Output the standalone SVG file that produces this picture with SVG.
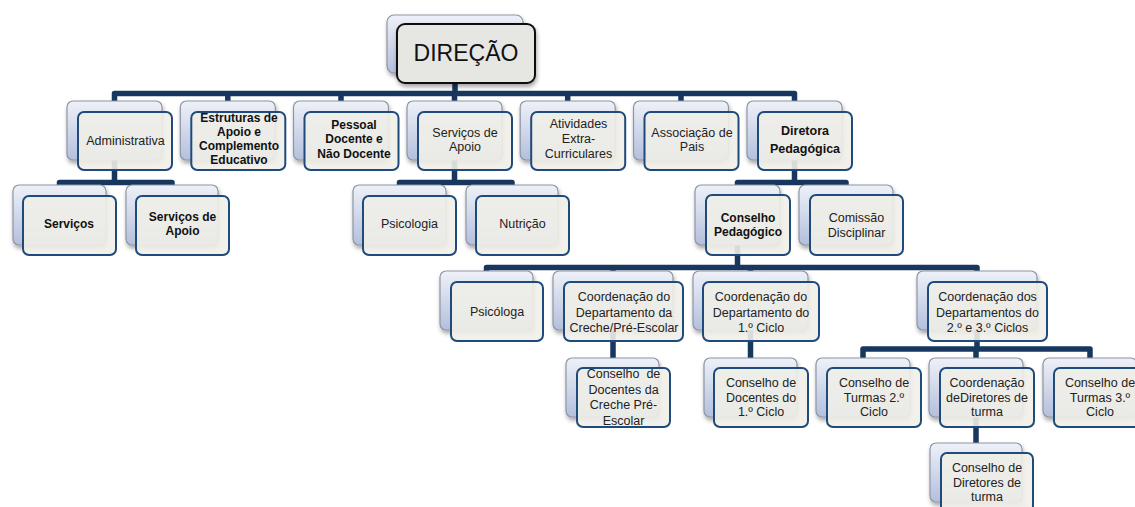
<svg xmlns="http://www.w3.org/2000/svg" width="1135" height="507" viewBox="0 0 1135 507">
<defs>
<linearGradient id="gb" x1="0" y1="0" x2="0" y2="1">
<stop offset="0" stop-color="#eef1f8"/>
<stop offset="1" stop-color="#b3bfdc"/>
</linearGradient>
<filter id="sh" x="-20%" y="-20%" width="140%" height="150%">
<feDropShadow dx="1" dy="3" stdDeviation="2" flood-color="#000" flood-opacity="0.35"/>
</filter>
<style>
.bk{fill:url(#gb);stroke:#8e95a3;stroke-width:1.2;filter:url(#sh)}
.fr{fill:#efeee8;fill-opacity:0.9;stroke:#1f4a7c;stroke-width:2}
.fd{fill:#e6e6e3;stroke:#111;stroke-width:2;filter:url(#sh)}
.t{font-family:"Liberation Sans",Arial,sans-serif;font-size:12.5px;fill:#222;text-anchor:middle}
.b{font-weight:bold;font-size:12px;fill:#111}
.c{fill:none;stroke:#17375e;stroke-width:5.5;stroke-linejoin:round}
</style>
</defs>
<rect width="1135" height="507" fill="#fff"/>
<g id="connectors">
<path class="c" d="M455 80V93.5M114.5 101V93.5H794.5V101M227.8 93.5V101M341 93.5V101M454.5 93.5V101M567.7 93.5V101M681 93.5V101"/>
<path class="c" d="M114.5 160V182.5M59.5 186V182.5H172V186"/>
<path class="c" d="M454.5 160V182.5M399.5 186V182.5H512V186"/>
<path class="c" d="M794.5 160V182.5M737.5 186V182.5H846V186"/>
<path class="c" d="M737.5 245V267.5M486.5 272V267.5H977V272M613 267.5V272M750.5 267.5V272"/>
<path class="c" d="M613 330V359M750.5 330V359"/>
<path class="c" d="M977 330V349M863 359V349H1090V359M976 349V359"/>
<path class="c" d="M976 417V444"/>
</g>
<g id="direcao">
<rect class="bk" x="387" y="15" width="136" height="58" rx="7"/>
<rect class="fd" x="397" y="24" width="138" height="59" rx="8"/>
<text class="t" x="466" y="61" style="font-size:23px;fill:#111">DIREÇÃO</text>
</g>
<g id="administrativa">
<rect class="bk" x="67" y="101" width="95" height="59" rx="6"/>
<rect class="fr" x="78" y="112" width="94" height="58" rx="6"/>
<text class="t" x="125.5" y="145">Administrativa</text>
</g>
<g id="estruturas">
<rect class="bk" x="180.3" y="101" width="95" height="59" rx="6"/>
<rect class="fr" x="191.3" y="112" width="94" height="58" rx="6"/>
<text class="t b" x="239" y="122">Estruturas de</text>
<text class="t b" x="239" y="136">Apoio e</text>
<text class="t b" x="239" y="150">Complemento</text>
<text class="t b" x="239" y="164">Educativo</text>
</g>
<g id="pessoal">
<rect class="bk" x="293.5" y="101" width="95" height="59" rx="6"/>
<rect class="fr" x="304.5" y="112" width="94" height="58" rx="6"/>
<text class="t b" x="354" y="129">Pessoal</text>
<text class="t b" x="354" y="143">Docente e</text>
<text class="t b" x="354" y="158">Não Docente</text>
</g>
<g id="servicos-apoio">
<rect class="bk" x="407" y="101" width="95" height="59" rx="6"/>
<rect class="fr" x="418" y="112" width="94" height="58" rx="6"/>
<text class="t" x="465" y="137">Serviços de</text>
<text class="t" x="465" y="151">Apoio</text>
</g>
<g id="atividades">
<rect class="bk" x="520.2" y="101" width="95" height="59" rx="6"/>
<rect class="fr" x="531.2" y="112" width="94" height="58" rx="6"/>
<text class="t" x="578.5" y="128">Atividades</text>
<text class="t" x="578.5" y="143">Extra-</text>
<text class="t" x="578.5" y="158">Curriculares</text>
</g>
<g id="associacao">
<rect class="bk" x="633.5" y="101" width="95" height="59" rx="6"/>
<rect class="fr" x="644.5" y="112" width="94" height="58" rx="6"/>
<text class="t" x="692" y="137">Associação de</text>
<text class="t" x="692" y="151">Pais</text>
</g>
<g id="diretora">
<rect class="bk" x="747" y="101" width="95" height="59" rx="6"/>
<rect class="fr" x="758" y="112" width="94" height="58" rx="6"/>
<text class="t b" x="805" y="135" style="font-size:12.5px">Diretora</text>
<text class="t b" x="805" y="153" style="font-size:12.5px">Pedagógica</text>
</g>
<g id="servicos">
<rect class="bk" x="13" y="185" width="93" height="60" rx="6"/>
<rect class="fr" x="23" y="196" width="93" height="59" rx="6"/>
<text class="t b" x="69" y="228">Serviços</text>
</g>
<g id="servicos-apoio-2">
<rect class="bk" x="126" y="185" width="92" height="60" rx="6"/>
<rect class="fr" x="136" y="196" width="93" height="59" rx="6"/>
<text class="t b" x="182.5" y="221">Serviços de</text>
<text class="t b" x="182.5" y="235">Apoio</text>
</g>
<g id="psicologia">
<rect class="bk" x="353" y="185" width="93" height="60" rx="6"/>
<rect class="fr" x="363" y="196" width="93" height="59" rx="6"/>
<text class="t" x="409.5" y="228">Psicologia</text>
</g>
<g id="nutricao">
<rect class="bk" x="466" y="185" width="92" height="60" rx="6"/>
<rect class="fr" x="476" y="196" width="93" height="59" rx="6"/>
<text class="t" x="522.5" y="228">Nutrição</text>
</g>
<g id="conselho-pedagogico">
<rect class="bk" x="695" y="185" width="85" height="60" rx="6"/>
<rect class="fr" x="706" y="195" width="84" height="60" rx="6"/>
<text class="t b" x="748" y="222">Conselho</text>
<text class="t b" x="748" y="236">Pedagógico</text>
</g>
<g id="comissao">
<rect class="bk" x="799" y="185" width="94" height="60" rx="6"/>
<rect class="fr" x="810" y="195" width="93" height="60" rx="6"/>
<text class="t" x="856.5" y="222">Comissão</text>
<text class="t" x="856.5" y="237">Disciplinar</text>
</g>
<g id="psicologa">
<rect class="bk" x="440" y="271" width="93" height="59" rx="6"/>
<rect class="fr" x="451" y="282" width="92" height="59" rx="6"/>
<text class="t" x="497" y="316">Psicóloga</text>
</g>
<g id="coord-creche">
<rect class="bk" x="553" y="271" width="120" height="59" rx="6"/>
<rect class="fr" x="564" y="282" width="119" height="59" rx="6"/>
<text class="t" x="624" y="301">Coordenação do</text>
<text class="t" x="624" y="316.5">Departamento da</text>
<text class="t" x="624" y="332">Creche/Pré-Escolar</text>
</g>
<g id="coord-1ciclo">
<rect class="bk" x="693" y="271" width="115" height="59" rx="6"/>
<rect class="fr" x="703" y="282" width="116" height="59" rx="6"/>
<text class="t" x="761" y="301">Coordenação do</text>
<text class="t" x="761" y="316.5">Departamento do</text>
<text class="t" x="761" y="332">1.º Ciclo</text>
</g>
<g id="coord-2-3ciclos">
<rect class="bk" x="917" y="271" width="120" height="59" rx="6"/>
<rect class="fr" x="928" y="282" width="119" height="59" rx="6"/>
<text class="t" x="987.5" y="301">Coordenação dos</text>
<text class="t" x="987.5" y="316.5">Departamentos do</text>
<text class="t" x="987.5" y="332">2.º e 3.º Ciclos</text>
</g>
<g id="conselho-creche">
<rect class="bk" x="566" y="358" width="93" height="59" rx="6"/>
<rect class="fr" x="577" y="368" width="93" height="59" rx="6"/>
<text class="t" x="623.5" y="378" xml:space="preserve">Conselho  de</text>
<text class="t" x="623.5" y="393.5">Docentes da</text>
<text class="t" x="623.5" y="409">Creche Pré-</text>
<text class="t" x="623.5" y="425">Escolar</text>
</g>
<g id="conselho-1ciclo">
<rect class="bk" x="704" y="358" width="93" height="59" rx="6"/>
<rect class="fr" x="714" y="368" width="94" height="59" rx="6"/>
<text class="t" x="761" y="387">Conselho de</text>
<text class="t" x="761" y="402">Docentes do</text>
<text class="t" x="761" y="416">1.º Ciclo</text>
</g>
<g id="turmas-2">
<rect class="bk" x="816" y="358" width="94" height="59" rx="6"/>
<rect class="fr" x="827" y="368" width="94" height="59" rx="6"/>
<text class="t" x="874" y="387">Conselho de</text>
<text class="t" x="874" y="402">Turmas 2.º</text>
<text class="t" x="874" y="416">Ciclo</text>
</g>
<g id="coord-diretores">
<rect class="bk" x="929" y="358" width="94" height="59" rx="6"/>
<rect class="fr" x="940" y="368" width="94" height="59" rx="6"/>
<text class="t" x="987" y="387">Coordenação</text>
<text class="t" x="987" y="402">deDiretores de</text>
<text class="t" x="987" y="416">turma</text>
</g>
<g id="turmas-3">
<rect class="bk" x="1043" y="358" width="94" height="59" rx="6"/>
<rect class="fr" x="1054" y="368" width="94" height="59" rx="6"/>
<text class="t" x="1100" y="387">Conselho de</text>
<text class="t" x="1100" y="402">Turmas 3.º</text>
<text class="t" x="1100" y="416">Ciclo</text>
</g>
<g id="conselho-diretores">
<rect class="bk" x="930" y="443" width="92" height="59" rx="6"/>
<rect class="fr" x="941" y="453" width="92" height="59" rx="6"/>
<text class="t" x="987" y="472">Conselho de</text>
<text class="t" x="987" y="487">Diretores de</text>
<text class="t" x="987" y="501">turma</text>
</g>
</svg>
